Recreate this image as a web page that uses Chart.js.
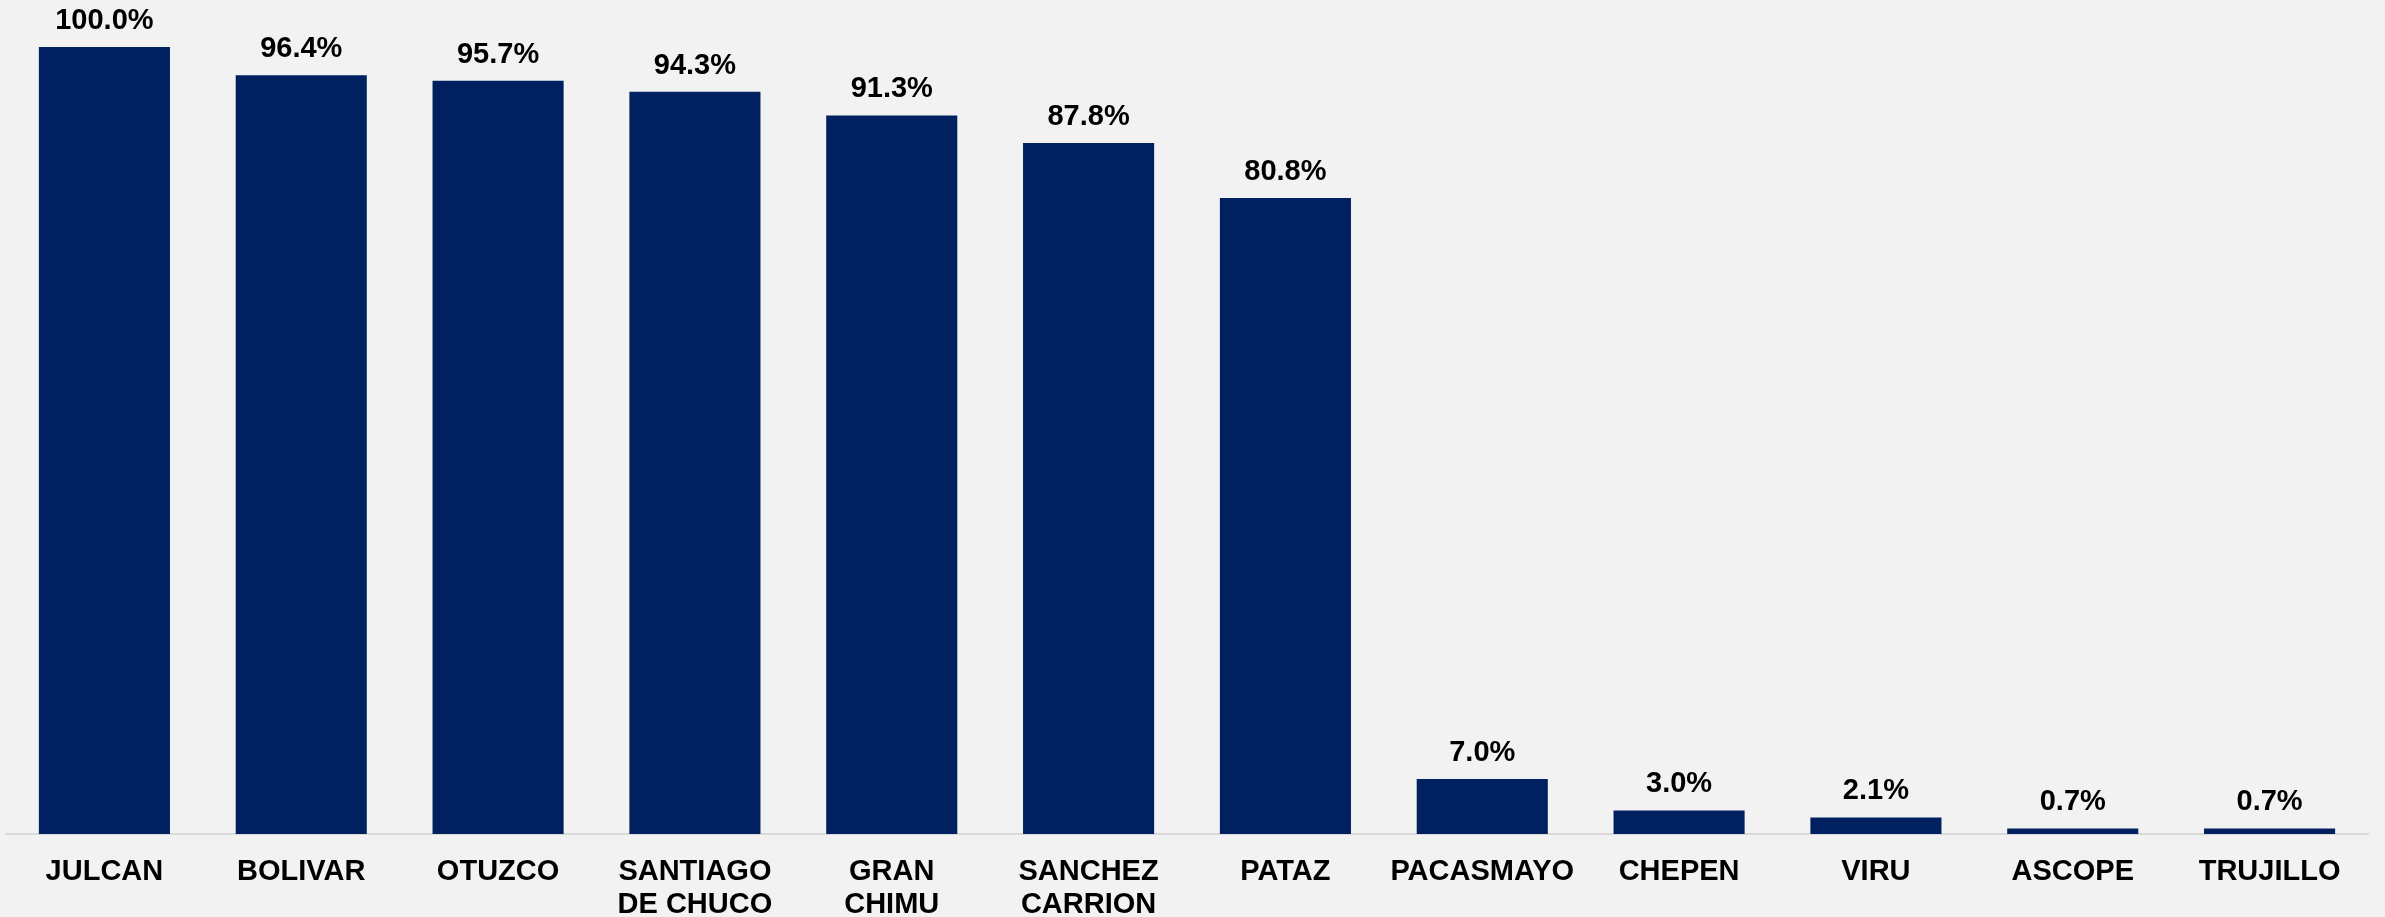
<!DOCTYPE html>
<html>
<head>
<meta charset="utf-8">
<script src="https://cdn.jsdelivr.net/npm/chart.js@4/dist/chart.umd.min.js"></script>
<style>
  html, body { margin: 0; padding: 0; background: #f2f2f2; }
  #wrap { width: 2385px; height: 917px; }
</style>
</head>
<body>
<div id="wrap"><canvas id="chart" width="2385" height="917"></canvas></div>
<script>
// provinces and their share (%)
const provinces = [
    'JULCAN', 'BOLIVAR', 'OTUZCO', ['SANTIAGO', 'DE CHUCO'], ['GRAN', 'CHIMU'],
    ['SANCHEZ', 'CARRION'], 'PATAZ', 'PACASMAYO', 'CHEPEN', 'VIRU', 'ASCOPE', 'TRUJILLO'
];
const shares = [100.0, 96.4, 95.7, 94.3, 91.3, 87.8, 80.8, 7.0, 3.0, 2.1, 0.7, 0.7];

const FONT = '"Liberation Sans", Arial, sans-serif';

// simple label plugin: writes the value above each bar
const valueLabels = {
    id: 'valueLabels',
    afterDatasetsDraw(chart) {
        const ctx = chart.ctx;
        const meta = chart.getDatasetMeta(0);
        ctx.save();
        ctx.font = 'bold 29px ' + FONT;
        ctx.fillStyle = '#000000';
        ctx.textAlign = 'center';
        ctx.textBaseline = 'alphabetic';
        meta.data.forEach((bar, i) => {
            ctx.fillText(shares[i].toFixed(1) + '%', bar.x, bar.y - 18);
        });
        ctx.restore();
    }
};

const bgFill = {
    id: 'bgFill',
    beforeDraw(chart) {
        const ctx = chart.ctx;
        ctx.save();
        ctx.fillStyle = '#f2f2f2';
        ctx.fillRect(0, 0, chart.width, chart.height);
        ctx.restore();
    }
};

new Chart(document.getElementById('chart'), {
    type: 'bar',
    data: {
        labels: provinces,
        datasets: [{
            data: shares,
            backgroundColor: '#002060',
            borderWidth: 0,
            categoryPercentage: 1.0,
            barPercentage: 0.666
        }]
    },
    options: {
        responsive: false,
        animation: false,
        layout: { padding: { left: 6, right: 17, top: 47, bottom: 0 } },
        scales: {
            x: {
                grid: { display: false, drawTicks: false },
                border: { display: true, color: '#d9d9d9', width: 2 },
                afterFit(scale) { scale.height = 83; },
                ticks: {
                    color: '#000000',
                    padding: 21,
                    maxRotation: 0,
                    autoSkip: false,
                    font: { family: FONT, size: 29, weight: 'bold', lineHeight: 1.14 }
                }
            },
            y: {
                display: false,
                min: 0,
                max: 100
            }
        },
        plugins: {
            legend: { display: false },
            tooltip: { enabled: false }
        }
    },
    plugins: [bgFill, valueLabels]
});
</script>
</body>
</html>
